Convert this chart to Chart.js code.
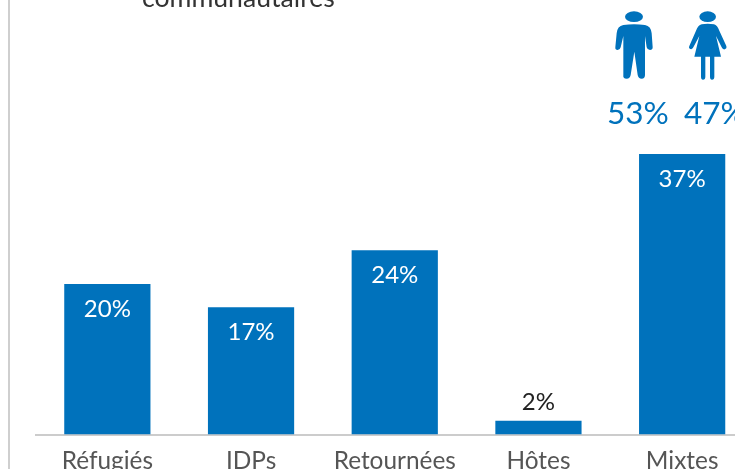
<!DOCTYPE html>
<html>
<head>
<meta charset="utf-8">
<script src="https://cdn.jsdelivr.net/npm/chart.js@4/dist/chart.umd.min.js"></script>
<style>
html,body{margin:0;padding:0;background:#fff;overflow:hidden;width:735px;height:469px;font-family:Lato,sans-serif;}
#wrap{position:relative;width:735px;height:469px;overflow:hidden;}
#Grafico1{position:absolute;left:0;top:0;}
#regle{position:absolute;left:8px;top:0;width:2px;height:469px;background:#cfcfcf;}
#titre{position:absolute;left:142px;top:-17px;font-size:26.6px;line-height:28px;color:#333;}
.pct{position:absolute;top:95px;font-size:31.5px;line-height:34px;color:#0072bc;white-space:nowrap;}
#icones{position:absolute;left:590px;top:0;}
</style>
</head>
<body>
<div id="wrap">
  <canvas id="Grafico1" width="754" height="469"></canvas>
  <div id="regle"></div>
  <div id="titre">communautaires</div>
  <svg id="icones" width="145" height="140" viewBox="0 0 435 420">
    <g fill="#0072bc">
      <ellipse cx="132" cy="50" rx="27" ry="16"/>
      <path d="M100,75 Q132,70 165,75 Q183,78 185,100 L188,142 Q188,150 180,150 Q172,150 170,142 L165,108 L165,225 Q165,236 155,236 Q145,236 143,225 L133,155 L122,225 Q120,236 110,236 Q98,236 100,225 L100,108 L92,142 Q90,150 83,150 Q75,150 76,142 L80,100 Q82,78 100,75 Z"/>
      <ellipse cx="353" cy="50" rx="25" ry="16"/>
      <path d="M335,73 Q353,69 372,73 Q382,76 388,92 L409,138 Q411,146 404,148 Q398,149 395,142 L378,108 L393,170 L373,170 L373,230 Q373,239 366,239 Q360,239 360,230 L360,170 L346,170 L346,230 Q346,239 339,239 Q333,239 333,230 L333,170 L313,170 L328,108 L310,142 Q307,149 301,147 Q295,145 298,138 L318,92 Q324,76 335,73 Z"/>
    </g>
  </svg>
  <div class="pct" id="pctH" style="left:607px"></div>
  <div class="pct" id="pctF" style="left:684px"></div>
</div>
<script>
const categories = ['Réfugiés','IDPs','Retournées','Hôtes','Mixtes'];
const valeurs = [19.85,16.8,24.3,1.8,37];
const etiquettes = ['20%','17%','24%','2%','37%'];
const genre = ['53%','47%'];

document.getElementById('pctH').textContent = genre[0];
document.getElementById('pctF').textContent = genre[1];

// etiquettes dans les barres, sauf les petites qui passent au dessus
const pluginEtiquettes = {
    id:'etiquettes',
    afterDatasetsDraw(chart){
        const ctx = chart.ctx;
        const barres = chart.getDatasetMeta(0).data;
        ctx.save();
        ctx.font = '24px Lato, sans-serif';
        ctx.textAlign = 'center';
        ctx.textBaseline = 'middle';
        barres.forEach((barre,i)=>{
            if(valeurs[i]<5){
                ctx.fillStyle = '#222222';
                ctx.fillText(etiquettes[i],barre.x,barre.y-19);
            }else{
                ctx.fillStyle = '#ffffff';
                ctx.fillText(etiquettes[i],barre.x,barre.y+25);
            }
        });
        ctx.restore();
    }
};

new Chart(document.getElementById('Grafico1').getContext('2d'),{
    type:'bar',
    data:{
        labels:categories,
        datasets:[{
            data:valeurs,
            backgroundColor:'#0072bc',
            categoryPercentage:1,
            barPercentage:0.6
        }]
    },
    options:{
        responsive:false,
        animation:false,
        devicePixelRatio:1,
        layout:{padding:{left:35.5,right:0,top:154,bottom:0}},
        plugins:{legend:{display:false},tooltip:{enabled:false}},
        scales:{
            x:{
                grid:{display:false},
                border:{color:'#cccccc',width:2},
                ticks:{color:'#555555',font:{family:'Lato, sans-serif',size:24.4},padding:4,maxRotation:0,autoSkip:false},
                afterFit(scale){scale.height = 34.5;}
            },
            y:{display:false,min:0,max:37}
        }
    },
    plugins:[pluginEtiquettes]
});
</script>
</body>
</html>
